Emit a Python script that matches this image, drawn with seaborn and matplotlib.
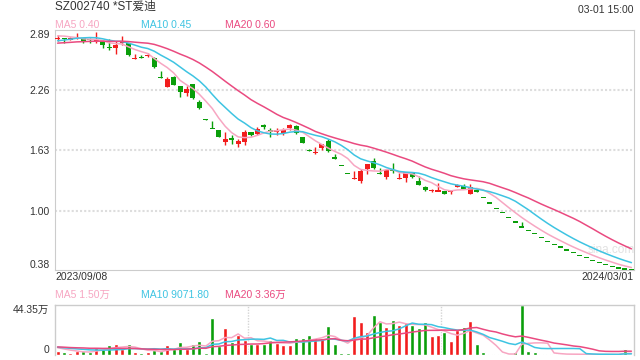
import numpy as np
import pandas as pd
import matplotlib
matplotlib.use("Agg")
import matplotlib.pyplot as plt
import seaborn as sns

# daily candles, 2023/09/08 .. 2024/03/01
opens = [2.79, 2.80, 2.78, 2.80, 2.80, 2.79, 2.77, 2.77, 2.71, 2.70,
         2.75, 2.75, 2.58, 2.60, 2.61, 2.59, 2.40, 2.29, 2.39, 2.30,
         2.23, 2.32, 2.13, 1.96, 1.86, 1.84, 1.72, 1.76, 1.70, 1.72,
         1.82, 1.80, 1.89, 1.84, 1.82, 1.81, 1.86, 1.88, 1.77, 1.63,
         1.60, 1.65, 1.73, 1.56, 1.47, 1.39, 1.33, 1.31, 1.43, 1.52,
         1.39, 1.35, 1.42, 1.33, 1.34, 1.39, 1.31, 1.25, 1.20, 1.20,
         1.20, 1.20, 1.25, 1.26, 1.17, 1.21, 1.14, 1.08, 1.02, 0.98,
         0.93, 0.88, 0.83, 0.79, 0.76, 0.72, 0.68, 0.65, 0.62, 0.59,
         0.56, 0.53, 0.51, 0.48, 0.46, 0.44, 0.42, 0.40, 0.39, 0.38]
highs = [2.83, 2.80, 2.81, 2.85, 2.80, 2.80, 2.86, 2.78, 2.79, 2.77,
         2.82, 2.75, 2.64, 2.63, 2.65, 2.60, 2.46, 2.40, 2.41, 2.30,
         2.30, 2.32, 2.16, 1.96, 1.94, 1.84, 1.82, 1.79, 1.75, 1.84,
         1.82, 1.87, 1.90, 1.86, 1.86, 1.86, 1.90, 1.89, 1.77, 1.64,
         1.66, 1.70, 1.75, 1.59, 1.47, 1.39, 1.41, 1.43, 1.49, 1.55,
         1.44, 1.43, 1.50, 1.39, 1.40, 1.40, 1.36, 1.26, 1.23, 1.29,
         1.20, 1.21, 1.28, 1.28, 1.28, 1.23, 1.14, 1.08, 1.02, 0.98,
         0.93, 0.88, 0.88, 0.79, 0.76, 0.72, 0.68, 0.65, 0.62, 0.59,
         0.56, 0.53, 0.51, 0.48, 0.46, 0.44, 0.42, 0.40, 0.39, 0.38]
lows = [2.77, 2.75, 2.78, 2.79, 2.75, 2.75, 2.75, 2.70, 2.68, 2.64,
        2.73, 2.61, 2.58, 2.59, 2.60, 2.49, 2.38, 2.29, 2.31, 2.19,
        2.20, 2.17, 2.06, 1.95, 1.86, 1.77, 1.68, 1.70, 1.66, 1.69,
        1.78, 1.79, 1.85, 1.77, 1.79, 1.79, 1.84, 1.80, 1.71, 1.62,
        1.59, 1.63, 1.61, 1.54, 1.47, 1.39, 1.33, 1.29, 1.38, 1.43,
        1.38, 1.33, 1.39, 1.33, 1.30, 1.34, 1.27, 1.21, 1.19, 1.20,
        1.17, 1.17, 1.25, 1.23, 1.17, 1.19, 1.14, 1.08, 1.02, 0.98,
        0.93, 0.88, 0.83, 0.79, 0.76, 0.72, 0.68, 0.65, 0.62, 0.59,
        0.56, 0.53, 0.51, 0.48, 0.46, 0.44, 0.42, 0.40, 0.39, 0.38]
closes = [2.80, 2.79, 2.80, 2.81, 2.77, 2.78, 2.78, 2.73, 2.70, 2.73,
          2.76, 2.63, 2.59, 2.59, 2.63, 2.50, 2.38, 2.37, 2.31, 2.24,
          2.27, 2.18, 2.07, 1.95, 1.86, 1.77, 1.75, 1.74, 1.73, 1.82,
          1.79, 1.85, 1.87, 1.82, 1.84, 1.84, 1.89, 1.81, 1.71, 1.62,
          1.61, 1.70, 1.62, 1.54, 1.47, 1.39, 1.34, 1.41, 1.49, 1.44,
          1.38, 1.42, 1.41, 1.34, 1.40, 1.35, 1.27, 1.22, 1.22, 1.21,
          1.17, 1.21, 1.27, 1.23, 1.25, 1.20, 1.14, 1.08, 1.02, 0.98,
          0.93, 0.88, 0.83, 0.79, 0.76, 0.72, 0.68, 0.65, 0.62, 0.59,
          0.56, 0.53, 0.51, 0.48, 0.46, 0.44, 0.42, 0.40, 0.39, 0.38]
# volume in 万
volumes = [2.98, 2.08, 1.19, 3.27, 3.27, 2.08, 6.55, 5.06, 8.33, 9.23,
           5.06, 9.23, 2.08, 1.19, 2.08, 4.46, 3.57, 8.33, 5.06, 11.0,
           5.06, 9.23, 11.9, 1.49, 32.4, 7.44, 23.5, 11.3, 17.9, 13.4,
           9.82, 9.82, 9.82, 13.4, 10.7, 8.63, 8.63, 14.6, 14.6, 17.3,
           14.6, 14.6, 25.3, 9.23, 1.19, 1.19, 34.2, 28.9, 19.9, 35.1,
           28.9, 24.4, 30.7, 26.2, 28.0, 26.2, 23.5, 28.9, 16.4, 17.3,
           19.9, 11.9, 21.7, 24.4, 29.8, 9.23, 2.08, 0.3, 0.2, 0.2,
           0.3, 2.0, 44.35, 3.6, 2.4, 0.6, 0.6, 0.6, 0.6, 0.3,
           0.3, 0.3, 0.3, 0.3, 0.3, 0.2, 0.2, 0.2, 5.1, 0.2]
# sessions before the window, only used to seed the moving averages
pre_closes = [2.70, 2.72, 2.71, 2.73, 2.72, 2.74, 2.73, 2.72, 2.74, 2.73,
              2.71, 2.72, 2.70, 2.73, 2.75, 2.80, 2.84, 2.85, 2.83]
pre_volumes = [6.5, 8.0, 7.2, 5.9, 7.8, 6.6, 7.4, 8.1, 6.9, 7.0,
               7.5, 6.2, 8.3, 7.1, 6.8, 7.6, 6.4, 7.3, 6.9]

title = "SZ002740 *ST爱迪"
stamp = "03-01 15:00"
date_first = "2023/09/08"
date_last = "2024/03/01"
price_ticks = [0.38, 1.00, 1.63, 2.26, 2.89]
price_tick_labels = ["0.38", "1.00", "1.63", "2.26", "2.89"]
vol_max = 44.35
price_legend = ["MA5 0.40", "MA10 0.45", "MA20 0.60"]
vol_legend = ["MA5 1.50万", "MA10 9071.80", "MA20 3.36万"]

RED = "#f21d1d"
GREEN = "#0a9e0a"
MA_COLORS = ["#f7a6c2", "#3ec4e2", "#ea4a80"]
TXT = "#333333"

sns.set_theme(style="white")
plt.rcParams['font.family'] = ['Liberation Sans', 'Noto Sans CJK SC', 'DejaVu Sans']

df = pd.DataFrame({"o": opens, "h": highs, "l": lows, "c": closes, "v": volumes})
df["idx"] = np.arange(len(df))
prev_c = pd.Series(pre_closes[-1:] + closes[:-1])
up = (df["c"] > df["o"]) | ((df["c"] == df["o"]) & (df["c"] >= prev_c))
df["dir"] = np.where(up, "up", "down")
colors = np.where(up, RED, GREEN)

all_c = pd.Series(pre_closes + closes)
all_v = pd.Series(pre_volumes + volumes)
k = len(pre_closes)
for n in (5, 10, 20):
    df[f"ma{n}"] = all_c.rolling(n, min_periods=1).mean().iloc[k:].to_numpy()
    df[f"vma{n}"] = all_v.rolling(n, min_periods=1).mean().iloc[k:].to_numpy()

fig = plt.figure(figsize=(6.4, 3.6), dpi=100)
ax = fig.add_axes([55 / 640, 1 - 270 / 360, 579 / 640, 240.4 / 360])
axv = fig.add_axes([55 / 640, 1 - 354.7 / 360, 579 / 640, 49.7 / 360])

n_bars = len(df)
xlim = (-0.4, n_bars - 0.6)

# price panel
for y in price_ticks[1:-1]:
    ax.axhline(y, color="#dddddd", lw=1.5, ls=(0, (1, 1)), zorder=0)

body_lo = np.minimum(df["o"], df["c"])
body_h = np.abs(df["c"] - df["o"])
min_h = 0.013
bottoms = body_lo - np.clip(min_h - body_h, 0, None) / 2
ax.vlines(df["idx"], df["l"], df["h"], colors=colors, lw=1, zorder=2)
ax.bar(df["idx"], np.maximum(body_h, min_h), bottom=bottoms, width=0.78,
       color=colors, lw=0, zorder=3)

for n, col in zip((5, 10, 20), MA_COLORS):
    sns.lineplot(data=df, x="idx", y=f"ma{n}", color=col, lw=1.1, ax=ax, zorder=4)

ax.set_xlim(*xlim)
ax.set_ylim(price_ticks[0], price_ticks[-1])
ax.set_xticks([])
ax.set_yticks(price_ticks)
ax.set_yticklabels(price_tick_labels)
ax.set_xlabel("")
ax.set_ylabel("")
ax.tick_params(axis="y", length=0, pad=4, labelsize=7.5, labelcolor=TXT)
labs = ax.get_yticklabels()
labs[0].set_va("bottom")
labs[-1].set_va("top")
for s in ax.spines.values():
    s.set_color("#cccccc")
    s.set_linewidth(0.8)

ax.text(0.96, 0.085, "sina.com", transform=ax.transAxes, color="#e2e2e2",
        fontsize=8.5, ha="center", va="center", zorder=1)

# volume panel
sns.barplot(data=df, x="idx", y="v", hue="dir", palette={"up": RED, "down": GREEN},
            dodge=False, legend=False, width=0.62, saturation=1, ax=axv, zorder=2)
for n, col in zip((5, 10, 20), MA_COLORS):
    axv.plot(df["idx"], df[f"vma{n}"], color=col, lw=1.1, zorder=4)

axv.set_xlim(*xlim)
axv.set_ylim(0, vol_max)
span = xlim[1] - xlim[0]
for frac in (1 / 3, 2 / 3):
    axv.axvline(xlim[0] + span * frac, color="#d4d4d4", lw=1, ls=(0, (1, 1)), zorder=0)
axv.set_xticks([])
axv.set_yticks([0, vol_max])
axv.set_yticklabels(["0", "44.35万"])
axv.set_xlabel("")
axv.set_ylabel("")
axv.tick_params(axis="y", length=0, pad=4, labelsize=7.5, labelcolor=TXT)
vl = axv.get_yticklabels()
vl[0].set_va("bottom")
vl[-1].set_va("top")
for name, s in axv.spines.items():
    s.set_color("#cccccc")
    s.set_linewidth(1)
    s.set_linestyle((0, (1, 1)))
axv.spines["bottom"].set_visible(False)

# header texts
fig.text(55 / 640, 1 - 7 / 360, title, fontsize=8.5, color=TXT, va="center", ha="left")
fig.text(634 / 640, 1 - 10 / 360, stamp, fontsize=7.5, color=TXT, va="center", ha="right")
for xpx, txt, col in zip((55, 141, 225), price_legend, MA_COLORS):
    fig.text(xpx / 640, 1 - 24.5 / 360, txt, fontsize=7.5, color=col, va="center", ha="left")
for xpx, txt, col in zip((55, 141, 225), vol_legend, MA_COLORS):
    fig.text(xpx / 640, 1 - 295 / 360, txt, fontsize=7.5, color=col, va="center", ha="left")
fig.text(55 / 640, 1 - 277 / 360, date_first, fontsize=7.5, color=TXT, va="center", ha="left")
fig.text(634 / 640, 1 - 277 / 360, date_last, fontsize=7.5, color=TXT, va="center", ha="right")

fig.savefig("out.png", dpi=100)
plt.close(fig)
